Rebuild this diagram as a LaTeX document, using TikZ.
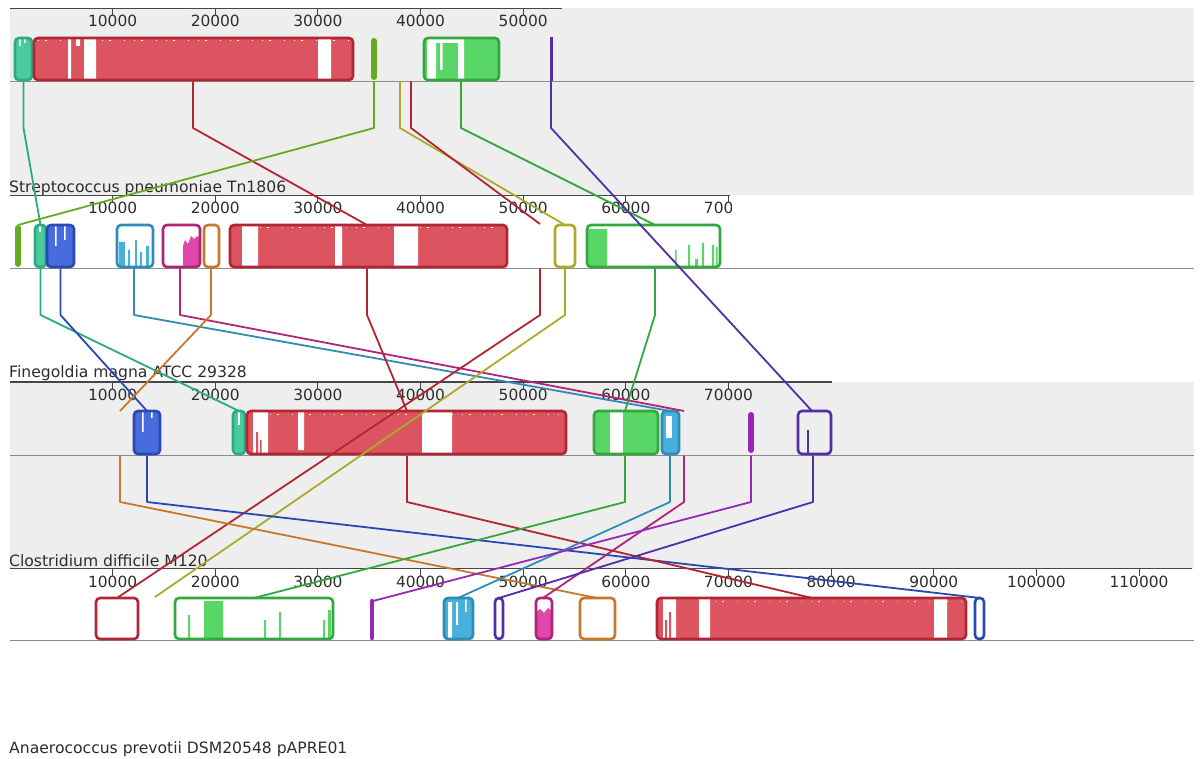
\documentclass[tikz,border=0pt]{standalone}
\usepackage{fontspec}
\setmainfont{DejaVu Sans}
\definecolor{redB}{RGB}{178,38,52}
\definecolor{redF}{RGB}{220,84,96}
\definecolor{tealB}{RGB}{45,170,130}
\definecolor{tealF}{RGB}{72,204,158}
\definecolor{oliveG}{RGB}{102,170,34}
\definecolor{greenB}{RGB}{50,168,62}
\definecolor{greenF}{RGB}{88,215,104}
\definecolor{indigoB}{RGB}{82,46,168}
\definecolor{blueB}{RGB}{40,72,178}
\definecolor{blueF}{RGB}{72,108,222}
\definecolor{cyanB}{RGB}{48,140,180}
\definecolor{cyanF}{RGB}{72,176,220}
\definecolor{magB}{RGB}{176,36,122}
\definecolor{magF}{RGB}{222,72,170}
\definecolor{orangeB}{RGB}{200,120,42}
\definecolor{yellowB}{RGB}{172,170,40}
\definecolor{violetB}{RGB}{150,40,185}
\definecolor{bgGray}{RGB}{238,238,238}
\definecolor{axisGray}{RGB}{140,140,140}
\definecolor{rulerC}{RGB}{70,70,70}
\definecolor{txt}{RGB}{45,45,45}
\newcommand\lcbox[6]{%
  \begin{scope}
    \clip[rounded corners=4pt] (#1,#3) rectangle (#2,#4);
    #6
  \end{scope}
  \draw[lcb,draw=#5] (#1,#3) rectangle (#2,#4);}
\begin{document}
\begin{tikzpicture}[x=1pt,y=-1pt,
  lcb/.style={line width=2.6pt, rounded corners=4pt},
  thinblk/.style={line width=6pt, line cap=round},
  conn/.style={line width=1.8pt, line join=round},
  axisln/.style={draw=axisGray, line width=1.6pt},
  rulerln/.style={draw=rulerC, line width=1.3pt},
  tickln/.style={draw=rulerC, line width=1.1pt},
  speck/.style={white, line width=1pt, dash pattern=on 1pt off 6pt on 2pt off 13pt on 1pt off 9pt},
  tlab/.style={anchor=base, inner sep=0pt, text=txt, font=\fontsize{15.4}{18}\selectfont},
  glab/.style={anchor=base west, inner sep=0pt, text=txt, font=\fontsize{15.6}{18}\selectfont}]
\useasboundingbox (0,0) rectangle (1200,759);
\fill[white] (0,0) rectangle (1200,759);
% panel backgrounds
\fill[bgGray] (10,8.5) rectangle (1194,195.5);
\fill[bgGray] (10,382) rectangle (1194,568.5);
% rulers
\draw[rulerln] (10,8.5) -- (562,8.5);
\draw[rulerln] (10,195.5) -- (729.5,195.5);
\draw[rulerln] (10,382) -- (832,382);
\draw[rulerln] (10,568.5) -- (1192,568.5);
\foreach \k in {1,...,5}{\draw[tickln] ({10+102.64*\k},8.5) -- ++(0,7);
  \node[tlab] (pa\k) at ({10+102.64*\k},27) {\k0000};}
\begin{scope}
\clip (0,190) rectangle (731,225);
\foreach \k in {1,...,7}{\draw[tickln] ({10+102.64*\k},195.5) -- ++(0,7);
  \node[tlab] (pb\k) at ({10+102.64*\k},214) {\k0000};}
\end{scope}
\foreach \k in {1,...,7}{\draw[tickln] ({10+102.64*\k},382) -- ++(0,7);
  \node[tlab] (pc\k) at ({10+102.64*\k},400.5) {\k0000};}
\foreach \k in {1,...,11}{\draw[tickln] ({10+102.64*\k},568.5) -- ++(0,7);
  \node[tlab] (pd\k) at ({10+102.64*\k},587) {\k0000};}
% axis lines
\draw[axisln] (10,81.5) -- (1194,81.5);
\draw[axisln] (10,268.5) -- (1194,268.5);
\draw[axisln] (10,455.5) -- (1194,455.5);
\draw[axisln] (10,640.5) -- (1194,640.5);
% ---------- genome 1 blocks
\def\yt{38}\def\yb{80}
\lcbox{15}{32}{\yt}{\yb}{tealB}{\fill[tealF] (15,\yt) rectangle (32,\yb); \fill[white] (19,\yt) rectangle (20.5,46) (24,\yt) rectangle (25.5,43);}
\lcbox{34}{353}{\yt}{\yb}{redB}{\fill[redF] (34,\yt) rectangle (353,\yb);
  \fill[white] (68,\yt) rectangle (71,\yb) (84,\yt) rectangle (96,\yb) (318,\yt) rectangle (331,\yb) (76,\yt) rectangle (80,46);
  \draw[speck] (38,41) -- (350,41);}
\draw[oliveG,thinblk] (374,41) -- (374,77);
\lcbox{424}{499}{\yt}{\yb}{greenB}{\fill[greenF] (424,\yt) rectangle (499,\yb);
  \fill[white] (427,\yt) rectangle (436,\yb) (458,\yt) rectangle (464,\yb) (436,\yt) rectangle (458,43) (440,\yt) rectangle (442.5,70);}
\draw[indigoB,line width=3pt] (551,37) -- (551,81);
% ---------- genome 2 blocks
\def\yt{225}\def\yb{267}
\draw[oliveG,thinblk] (18,228) -- (18,264);
\lcbox{35}{46}{\yt}{\yb}{tealB}{\fill[tealF] (35,\yt) rectangle (46,\yb); \fill[white] (39,\yt) rectangle (40.5,232);}
\lcbox{47}{74}{\yt}{\yb}{blueB}{\fill[blueF] (47,\yt) rectangle (74,\yb); \fill[white] (55,\yt) rectangle (56.5,246) (64,\yt) rectangle (65.5,240);}
\lcbox{117}{153}{\yt}{\yb}{cyanB}{\fill[cyanF] (119,242) rectangle (125,\yb) (128,250) rectangle (130,\yb) (135,240) rectangle (137,\yb) (140,252) rectangle (142,\yb) (146,246) rectangle (149,\yb);}
\lcbox{163}{200}{\yt}{\yb}{magB}{\fill[magF] (183,246) -- (185,240) -- (188,244) -- (191,236) -- (194,239) -- (197,236) -- (200,238) -- (200,\yb) -- (183,\yb) -- cycle;}
\lcbox{204}{219}{\yt}{\yb}{orangeB}{}
\lcbox{230}{507}{\yt}{\yb}{redB}{\fill[redF] (230,\yt) rectangle (507,\yb);
  \fill[white] (242,\yt) rectangle (258,\yb) (335,\yt) rectangle (342,\yb) (394,\yt) rectangle (418,\yb);
  \draw[speck] (260,228) -- (505,228);}
\lcbox{555}{575}{\yt}{\yb}{yellowB}{}
\lcbox{587}{720}{\yt}{\yb}{greenB}{\fill[greenF] (587,229) rectangle (607,\yb) (675,250) rectangle (676.5,\yb) (688,245) rectangle (690,\yb) (695,259) rectangle (698,\yb) (702,243) rectangle (704,\yb) (712,245) rectangle (714,\yb) (716,247) rectangle (717.5,\yb);}
% ---------- genome 3 blocks
\def\yt{411}\def\yb{454}
\lcbox{134}{160}{\yt}{\yb}{blueB}{\fill[blueF] (134,\yt) rectangle (160,\yb); \fill[white] (142,\yt) rectangle (143.5,432) (151,\yt) rectangle (152.5,418);}
\lcbox{233}{245}{\yt}{\yb}{tealB}{\fill[tealF] (233,\yt) rectangle (245,\yb); \fill[white] (238,\yt) rectangle (239.5,425);}
\lcbox{247}{566}{\yt}{\yb}{redB}{\fill[redF] (247,\yt) rectangle (566,\yb);
  \fill[white] (253,\yt) rectangle (268,\yb) (298,\yt) rectangle (304,450) (422,\yt) rectangle (452,\yb);
  \fill[redF] (256,432) rectangle (258,\yb) (260,440) rectangle (261.5,\yb);
  \draw[speck] (270,414) -- (563,414);}
\lcbox{594}{658}{\yt}{\yb}{greenB}{\fill[greenF] (594,\yt) rectangle (658,\yb); \fill[white] (610,\yt) rectangle (623,\yb);}
\lcbox{662}{679}{\yt}{\yb}{cyanB}{\fill[cyanF] (662,\yt) rectangle (679,\yb); \fill[white] (666,416) rectangle (672,438);}
\draw[violetB,thinblk] (751,415) -- (751,450);
\lcbox{798}{831}{\yt}{\yb}{indigoB}{\fill[indigoB] (807,430) rectangle (809,\yb);}
% ---------- genome 4 blocks
\def\yt{598}\def\yb{639}
\lcbox{96}{138}{\yt}{\yb}{redB}{}
\lcbox{175}{333}{\yt}{\yb}{greenB}{\fill[greenF] (204,601) rectangle (223,\yb) (188,615) rectangle (190,\yb) (264,620) rectangle (266,\yb) (279,612) rectangle (281,\yb) (323,620) rectangle (325,\yb) (328,610) rectangle (331,\yb);}
\draw[violetB,line width=4.5pt,line cap=round] (372,601) -- (372,638);
\lcbox{444}{473}{\yt}{\yb}{cyanB}{\fill[cyanF] (444,\yt) rectangle (473,\yb); \fill[white] (448,602) rectangle (452,\yb) (456,602) rectangle (458,625) (465,\yt) rectangle (466.5,612);}
\lcbox{495}{503}{\yt}{\yb}{indigoB}{}
\lcbox{536}{552}{\yt}{\yb}{magB}{\fill[magF] (536,612) -- (540,609) -- (544,613) -- (548,608) -- (552,611) -- (552,\yb) -- (536,\yb) -- cycle;}
\lcbox{580}{615}{\yt}{\yb}{orangeB}{}
\lcbox{657}{966}{\yt}{\yb}{redB}{\fill[redF] (657,\yt) rectangle (966,\yb);
  \fill[white] (663,\yt) rectangle (676,\yb) (699,\yt) rectangle (710,\yb) (934,\yt) rectangle (947,\yb);
  \fill[redF] (665,620) rectangle (667,\yb) (669,612) rectangle (671,\yb);
  \draw[speck] (715,601) -- (962,601);}
\lcbox{975}{984}{\yt}{\yb}{blueB}{}
% ---------- genome labels
\node[glab] (g1) at (9,193) {Streptococcus pneumoniae Tn1806};
\node[glab] (g2) at (9,377.5) {Finegoldia magna ATCC 29328};
\node[glab] (g3) at (9,566) {Clostridium difficile M120};
\node[glab] (g4) at (9,753) {Anaerococcus prevotii DSM20548 pAPRE01};
% ---------- connector end points
\def\kk{46.5}
\coordinate (L1s) at (23.5,81.5);  \coordinate (L1e) at (40.5,225);
\coordinate (L2s) at (193,81.5);   \coordinate (L2e) at (367,225);
\coordinate (L3s) at (374,81.5);   \coordinate (L3e) at (18,225);
\coordinate (L4s) at (400,81.5);   \coordinate (L4e) at (565,225);
\coordinate (L5s) at (411,81.5);   \coordinate (L5e) at (540,224);
\coordinate (L6s) at (461,81.5);   \coordinate (L6e) at (655,225);
\coordinate (L7s) at (551,81.5);   \coordinate (L7e) at (812,411);
\coordinate (L8s) at (40.5,268.5); \coordinate (L8e) at (239,411);
\coordinate (L9s) at (60.5,268.5); \coordinate (L9e) at (147,411);
\coordinate (L10s) at (134,268.5); \coordinate (L10e) at (670,411);
\coordinate (L11s) at (180,268.5); \coordinate (L11e) at (684,411);
\coordinate (L12s) at (211,268.5); \coordinate (L12e) at (120,411);
\coordinate (L13s) at (367,268.5); \coordinate (L13e) at (407,411);
\coordinate (L14s) at (540,268.5); \coordinate (L14e) at (117,598);
\coordinate (L15s) at (565,268.5); \coordinate (L15e) at (155,597);
\coordinate (L16s) at (655,268.5); \coordinate (L16e) at (625,411);
\coordinate (L17s) at (120,455.5); \coordinate (L17e) at (597,598);
\coordinate (L18s) at (147,455.5); \coordinate (L18e) at (980,598);
\coordinate (L19s) at (407,455.5); \coordinate (L19e) at (812,598);
\coordinate (L20s) at (625,455.5); \coordinate (L20e) at (254,598);
\coordinate (L21s) at (670,455.5); \coordinate (L21e) at (458,598);
\coordinate (L22s) at (684,455.5); \coordinate (L22e) at (543,598);
\coordinate (L23s) at (751,455.5); \coordinate (L23e) at (373,601);
\coordinate (L24s) at (813,455.5); \coordinate (L24e) at (499,598);
% ---------- connectors
\draw[conn,tealB]   (L1s)  -- ++(0,\kk) -- (L1e);
\draw[conn,redB]    (L2s)  -- ++(0,\kk) -- (L2e);
\draw[conn,oliveG]  (L3s)  -- ++(0,\kk) -- (L3e);
\draw[conn,yellowB] (L4s)  -- ++(0,\kk) -- (L4e);
\draw[conn,redB]    (L5s)  -- ++(0,\kk) -- (L5e);
\draw[conn,greenB]  (L6s)  -- ++(0,\kk) -- (L6e);
\draw[conn,indigoB] (L7s)  -- ++(0,\kk) -- (L7e);
\draw[conn,tealB]   (L8s)  -- ++(0,\kk) -- (L8e);
\draw[conn,blueB]   (L9s)  -- ++(0,\kk) -- (L9e);
\draw[conn,cyanB]   (L10s) -- ++(0,\kk) -- (L10e);
\draw[conn,magB]    (L11s) -- ++(0,\kk) -- (L11e);
\draw[conn,orangeB] (L12s) -- ++(0,\kk) -- (L12e);
\draw[conn,redB]    (L13s) -- ++(0,\kk) -- (L13e);
\draw[conn,redB]    (L14s) -- ++(0,\kk) -- (L14e);
\draw[conn,yellowB] (L15s) -- ++(0,\kk) -- (L15e);
\draw[conn,greenB]  (L16s) -- ++(0,\kk) -- (L16e);
\draw[conn,orangeB] (L17s) -- ++(0,\kk) -- (L17e);
\draw[conn,blueB]   (L18s) -- ++(0,\kk) -- (L18e);
\draw[conn,redB]    (L19s) -- ++(0,\kk) -- (L19e);
\draw[conn,greenB]  (L20s) -- ++(0,\kk) -- (L20e);
\draw[conn,cyanB]   (L21s) -- ++(0,\kk) -- (L21e);
\draw[conn,magB]    (L22s) -- ++(0,\kk) -- (L22e);
\draw[conn,violetB] (L23s) -- ++(0,\kk) -- (L23e);
\draw[conn,indigoB] (L24s) -- ++(0,\kk) -- (L24e);
\end{tikzpicture}
\end{document}
